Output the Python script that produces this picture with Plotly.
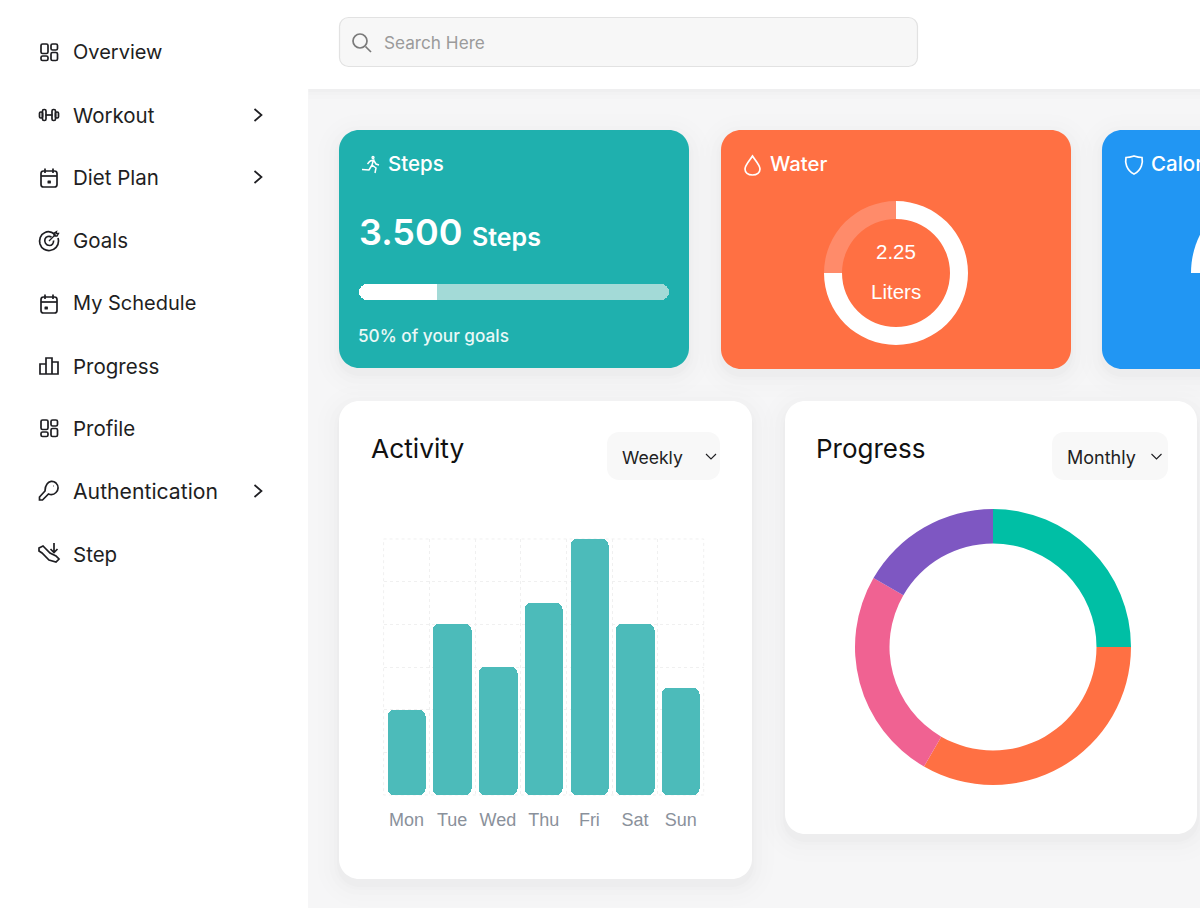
import re
import plotly.graph_objects as go

W, H = 1200, 908

# ---------- data ----------
days = ["Mon", "Tue", "Wed", "Thu", "Fri", "Sat", "Sun"]
activity = [40, 80, 60, 90, 120, 80, 50]
progress_labels = ["Green", "Orange", "Pink", "Purple"]
progress_values = [30, 40, 30, 20]
progress_colors = ["#00BFA5", "#FF7043", "#F06292", "#7E57C2"]
water_values = [2.25, 0.75]
water_colors = ["#FFFFFF", "#FF8B6A"]
steps_done = 25
steps_total = 100
menu_items = ["Overview", "Workout", "Diet Plan", "Goals", "My Schedule",
              "Progress", "Profile", "Authentication", "Step"]
menu_y = [52.5, 115, 177, 240, 303, 366, 428, 491, 554]
menu_chevrons = ["Workout", "Diet Plan", "Authentication"]

UI = "Inter, 'Noto Sans', sans-serif"
HELV = "'Liberation Sans', Arial, sans-serif"
INK = "#1E1E22"
MENU_SIZE = {"Overview": 20, "My Schedule": 20, "Authentication": 21.2}


def pp(d):
    """Convert a path written in page pixels into paper coordinates."""
    out, i = [], 0
    for tok in re.findall(r"[A-Za-z]|-?\d+\.?\d*", d):
        if tok.isalpha():
            out.append(tok)
        else:
            v = float(tok)
            if i % 2 == 0:
                out.append(f"{v / W:.5f},")
            else:
                out.append(f"{1 - v / H:.5f} ")
            i += 1
    return "".join(out)


def rrect(x0, y0, x1, y1, r):
    k = r * 0.448
    return (f"M{x0 + r},{y0} L{x1 - r},{y0} C{x1 - k},{y0} {x1},{y0 + k} {x1},{y0 + r} "
            f"L{x1},{y1 - r} C{x1},{y1 - k} {x1 - k},{y1} {x1 - r},{y1} "
            f"L{x0 + r},{y1} C{x0 + k},{y1} {x0},{y1 - k} {x0},{y1 - r} "
            f"L{x0},{y0 + r} C{x0},{y0 + k} {x0 + k},{y0} {x0 + r},{y0} Z")


def circ(cx, cy, r):
    return rrect(cx - r, cy - r, cx + r, cy + r, r)


shapes = []


def add(d, fill=None, line=None, lw=0, opacity=1.0, dash=None):
    ln = dict(width=lw, color=line or "rgba(0,0,0,0)")
    if dash:
        ln["dash"] = dash
    shapes.append(dict(type="path", path=pp(d), xref="paper", yref="paper", layer="below",
                       opacity=opacity, line=ln, fillcolor=fill or "rgba(0,0,0,0)"))


def shadow(x0, y0, x1, y1, r, dy=6):
    for grow, op in [(22, 0.004), (16, 0.005), (10, 0.007), (5, 0.009), (2, 0.012)]:
        add(rrect(x0 - grow, y0 - grow + dy, x1 + grow, y1 + grow + dy, r + grow), fill="#000000", opacity=op)


def card(x0, y0, x1, y1, r, fill):
    shadow(x0, y0, x1, y1, r)
    add(rrect(x0, y0, x1, y1, r), fill=fill)


def stroke(d, color=INK, lw=1.7):
    add(d, line=color, lw=lw)


# ---------- page chrome ----------
add("M308,0 L1200,0 L1200,908 L308,908 Z", fill="#F6F6F7")
for grow, op in [(10, 0.006), (6, 0.008), (3, 0.012)]:
    add(f"M308,89 L1200,89 L1200,{89 + grow} L308,{89 + grow} Z", fill="#000000", opacity=op)
add("M0,0 L1200,0 L1200,89 L0,89 Z", fill="#FFFFFF")
add("M0,0 L308,0 L308,908 L0,908 Z", fill="#FFFFFF")
add(rrect(339.5, 17.5, 917.5, 66.5, 9), fill="#F7F7F7", line="#E2E2E2", lw=1.2)
stroke(circ(360, 41, 7), "#7A7A7A", 1.7)
stroke("M365.5,46.5 L371,52", "#7A7A7A", 1.7)

# ---------- cards ----------
card(339, 130, 689, 368, 20, "#1FB0AE")
card(721, 130, 1071, 369, 20, "#FF7043")
card(1102, 130, 1240, 369, 20, "#2196F3")
card(339, 401, 752, 879, 20, "#FFFFFF")
card(785, 401, 1197, 834, 20, "#FFFFFF")
add(rrect(607, 432, 720, 480, 12), fill="#F8F8F8")
add(rrect(1052, 432, 1168, 480, 12), fill="#F8F8F8")
stroke("M706,454 L711,459 L716,454", INK, 1.1)
stroke("M1151.5,454 L1156.5,459 L1161.5,454", INK, 1.1)
# visible part of the Calories gauge, clipped by the page edge
add("M1191,273 C1191,225.5 1229.5,187 1277,187 L1277,273 Z", fill="#FFFFFF")
# outer dotted frame of the activity grid
add("M383.6,539 L703.7,539 L703.7,795 L383.6,795 Z", line="#F0F0F0", lw=1, dash="dot")


# ---------- icons ----------
def grid_icon(dy):
    for x0, y0, x1, y1 in [(41, 44, 48, 53.5), (51, 44, 57.5, 50), (41, 56, 48, 60.5), (51, 52.5, 57.5, 60.5)]:
        stroke(rrect(x0, y0 + dy, x1, y1 + dy, 1.6))


def cal_icon(cy, dot):
    stroke(rrect(41, cy - 7, 57, cy + 9, 2.5))
    stroke(f"M41,{cy - 2} L57,{cy - 2}")
    stroke(f"M45,{cy - 9.5} L45,{cy - 5} M53,{cy - 9.5} L53,{cy - 5}")
    add(rrect(dot, cy + 2.5, dot + 3.4, cy + 5.5, 0.6), fill=INK)


grid_icon(0)
grid_icon(376)
# dumbbell
stroke("M45.5,115 L52.5,115")
stroke(rrect(42.5, 109.5, 46, 120.5, 1.5))
stroke(rrect(52, 109.5, 55.5, 120.5, 1.5))
stroke(rrect(39.5, 112, 42.5, 118, 1.2))
stroke(rrect(55.5, 112, 58.5, 118, 1.2))
cal_icon(178, 47.5)
cal_icon(304, 44.5)
# target
stroke("M55,234.5 C52,232 48,231 45,232.5 C40,234.5 39,240 40,244 C41.5,249 46,251 50,250.5 C55,250 58.5,246 58.5,241 C58.5,240 58.3,239 58,238")
stroke("M51.5,237 C49,235.5 46,236.5 45,239 C44,242 46,245.5 49.5,245.5 C52,245.5 54,243 53.5,240.5")
stroke("M49,241 L55.5,234.5 M54,233 L54,236 L57,236 L58.5,233.5 L56,233.5 L56.5,231.5 Z", INK, 1.3)
# progress bars
stroke("M40,374 L40,364 L46,364 L46,374 Z M46,374 L46,358 L52,358 L52,374 Z M52,374 L52,362 L58,362 L58,374 Z")
# key
stroke("M47,484 C49,481 53,480.5 56,483 C59,486 58.5,490 56,492.5 C54,494.5 51,495 48.5,494 L42.5,500 L39.5,500 L39.5,497 L45,491 C45,488.5 45.5,486 47,484 Z")
stroke("M53,486 L53.5,486")
# escalator
stroke("M39,548 L43,546 L50,553 L56,556 L59,559 L56,562 L49,560 L42,553 L39,551 Z")
stroke("M54,543 L54,552 M50.5,549 L54,552.5 L57.5,549")
# menu chevrons
for name in menu_chevrons:
    y = menu_y[menu_items.index(name)]
    stroke(f"M254.5,{y - 6} L261.5,{y} L254.5,{y + 6}", INK, 1.7)
# runner
stroke(circ(373, 157.5, 1), "#FFFFFF", 1.3)
stroke("M370,161 L373.5,160 L372,165 L376,168 L375,173 M372,165 L369,170 L362,169.5 M373.5,160 L376,164 L379,165 M370,161 L367.5,164", "#FFFFFF", 1.5)
# drop
stroke("M752.5,156 C755,160 760,165 760,169 C760,172.5 757,175 752.5,175 C748,175 745,172.5 745,169 C745,165 750,160 752.5,156 Z", "#FFFFFF", 1.7)
# shield
stroke("M1134,156 C1137,157 1140,157.5 1142,157.5 C1143,162 1142,170 1134,174 C1126,170 1125,162 1126,157.5 C1128,157.5 1131,157 1134,156 Z", "#FFFFFF", 1.7)

# ---------- text ----------
annotations = []


def text(x, y, s, size, color=INK, font=UI, weight=400, anchor="left"):
    annotations.append(dict(x=x / W, y=1 - y / H, xref="paper", yref="paper", text=s, showarrow=False,
                            xanchor=anchor, yanchor="middle", borderpad=0,
                            font=dict(family=font, size=size, color=color, weight=weight)))


for name, y in zip(menu_items, menu_y):
    text(71.5, y, name, MENU_SIZE.get(name, 20.5))
text(383, 43, "Search Here", 17.2, "#9B9B9B")
text(387, 164, "Steps", 20.5, "#FFFFFF", weight=500)
text(358, 232, "3.500", 36, "#FFFFFF", weight=600)
text(471, 237, "Steps", 25, "#FFFFFF", weight=600)
text(356.5, 335, "50% of your goals", 17.2, "#EAF8F7", weight=500)
text(769, 164, "Water", 20.3, "#FFFFFF", weight=500)
text(896, 252, "2.25", 20.5, "#FFFFFF", HELV, anchor="center")
text(896, 291, "Liters", 20.5, "#FFFFFF", HELV, anchor="center")
text(1150, 164, "Calories", 20.5, "#FFFFFF", weight=500)
text(370, 448, "Activity", 26.3, "#111111")
text(815, 448, "Progress", 26, "#111111")
text(621, 457, "Weekly", 17.6, "#222222")
text(1066, 457, "Monthly", 18, "#222222")


def dom_x(a, b):
    return [a / W, b / W]


def dom_y(top, bottom):
    return [1 - bottom / H, 1 - top / H]


# ---------- traces ----------
fig = go.Figure()
# an explicit base makes plotly round all four corners of the bar
fig.add_trace(go.Bar(x=days, y=activity, base=[0] * len(days), width=0.84,
                     marker=dict(color="#4CBBBA", cornerradius=6, line=dict(width=0)),
                     showlegend=False, xaxis="x", yaxis="y"))


def hbar(base, val, color, radius):
    fig.add_trace(go.Bar(x=[val], y=["Steps"], base=[base], orientation="h", width=1,
                         marker=dict(color=color, cornerradius=radius, line=dict(width=0)),
                         showlegend=False, xaxis="x2", yaxis="y2", hoverinfo="skip"))


hbar(0, steps_total, "#A3DAD7", 8)
hbar(0, steps_done, "#FFFFFF", 8)
hbar(steps_done / 2, steps_done / 2, "#FFFFFF", 0)  # squares off the right end of the filled part

fig.add_trace(go.Pie(values=water_values, marker=dict(colors=water_colors, line=dict(width=0)), hole=0.75,
                     sort=False, direction="clockwise", rotation=0, textinfo="none", showlegend=False,
                     domain=dict(x=dom_x(824, 968), y=dom_y(201, 345))))
fig.add_trace(go.Pie(labels=progress_labels, values=progress_values,
                     marker=dict(colors=progress_colors, line=dict(width=0)), hole=0.75,
                     sort=False, direction="clockwise", rotation=0, textinfo="none", showlegend=False,
                     domain=dict(x=dom_x(855, 1131), y=dom_y(509, 785))))

fig.update_layout(
    width=W, height=H, margin=dict(l=0, r=0, t=0, b=0), autosize=False,
    paper_bgcolor="#FFFFFF", plot_bgcolor="rgba(0,0,0,0)",
    barmode="overlay", bargap=0,
    shapes=shapes, annotations=annotations,
    xaxis=dict(domain=dom_x(383.6, 703.7), type="category", categoryorder="array", categoryarray=days,
               tickson="boundaries", ticks="", showline=False, showgrid=True, gridcolor="#F0F0F0", griddash="dot",
               gridwidth=1, zeroline=False, ticklabelstandoff=12,
               tickfont=dict(family=HELV, size=18, color="#8A919B")),
    yaxis=dict(domain=dom_y(539, 795), range=[0, 120], dtick=20, showticklabels=False, ticks="",
               showgrid=True, gridcolor="#F0F0F0", griddash="dot", gridwidth=1, zeroline=False, showline=False),
    xaxis2=dict(domain=dom_x(359, 669), range=[0, 100], visible=False, anchor="y2"),
    yaxis2=dict(domain=dom_y(284, 300), visible=False, anchor="x2", type="category"),
)
fig.write_html("out.html", config={"displayModeBar": False},
               post_script="document.body.style.margin='0';document.body.style.overflow='hidden';")
